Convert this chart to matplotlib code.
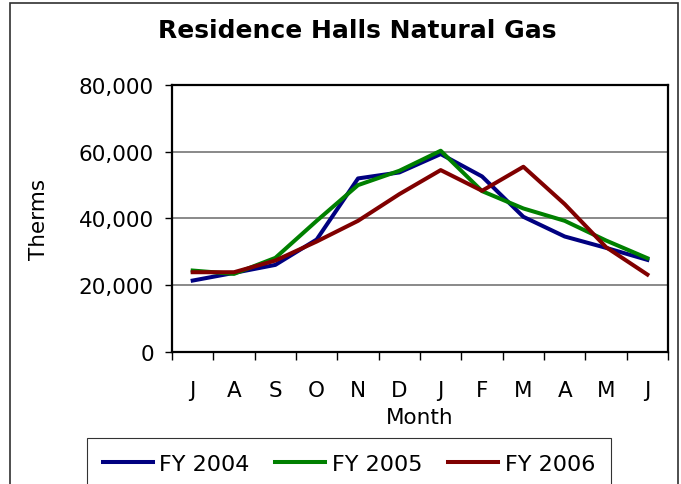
import matplotlib
matplotlib.use("Agg")
import matplotlib.pyplot as plt
from matplotlib.patches import Rectangle
from matplotlib.ticker import FuncFormatter, FixedLocator

months = ["J", "A", "S", "O", "N", "D", "J", "F", "M", "A", "M", "J"]
fy2004 = [21400, 23700, 26100, 33700, 52000, 53800, 59300, 52600, 40500, 34600, 31200, 27600]
fy2005 = [24400, 23400, 28200, 39300, 50000, 54300, 60300, 48200, 43000, 39300, 33400, 28100]
fy2006 = [23900, 23900, 27400, 33100, 39300, 47300, 54500, 48300, 55500, 44300, 31400, 23200]
series = [("FY 2004", fy2004, "#000080"),
          ("FY 2005", fy2005, "#008000"),
          ("FY 2006", fy2006, "#800000")]

plt.rcParams['font.family'] = ['DejaVu Sans']

fig = plt.figure(figsize=(6.81, 4.85), dpi=100)
ax = fig.add_axes([0.2526, 0.2722, 0.7284, 0.5505])

x = list(range(len(months)))
for name, vals, col in series:
    ax.plot(x, vals, color=col, lw=2.9, label=name)

ax.set_xlim(-0.5, 11.5)
ax.set_ylim(0, 80000)
ax.set_yticks([0, 20000, 40000, 60000, 80000])
ax.yaxis.set_major_formatter(FuncFormatter(lambda v, p: f"{int(v):,}"))
ax.grid(axis='y', color='#808080', lw=1.3)
ax.set_axisbelow(True)

ax.set_xticks(x)
ax.set_xticklabels(months)
ax.xaxis.set_minor_locator(FixedLocator([i - 0.5 for i in range(13)]))
ax.tick_params(axis='x', which='major', length=0, pad=20, labelsize=15.5)
ax.tick_params(axis='x', which='minor', length=6, width=1, direction='out')
ax.tick_params(axis='y', which='major', length=5, width=1, pad=8, labelsize=15.5)

for s in ax.spines.values():
    s.set_color('black')
    s.set_linewidth(1.6)

ax.set_xlabel("Month", fontsize=15.5, labelpad=5)
ax.set_ylabel("Therms", fontsize=15.5)
ax.yaxis.set_label_coords(-0.248, 0.5)
fig.suptitle("Residence Halls Natural Gas", fontsize=18, fontweight='bold',
             x=0.524, y=0.96)

leg = fig.legend(loc='upper center', bbox_to_anchor=(0.5125, 0.0948), ncol=3,
                 fontsize=16, frameon=True, fancybox=False, handlelength=2.25,
                 handletextpad=0.3, columnspacing=1.15, borderpad=0.72,
                 borderaxespad=0)
leg.get_frame().set_edgecolor('black')
leg.get_frame().set_linewidth(0.8)

fig.patches.append(Rectangle((10 / 681, -0.05), 668 / 681, 1.05 - 4 / 485,
                             transform=fig.transFigure, fill=False,
                             edgecolor='#303030', lw=1.2))

fig.savefig("out.png", dpi=100)
